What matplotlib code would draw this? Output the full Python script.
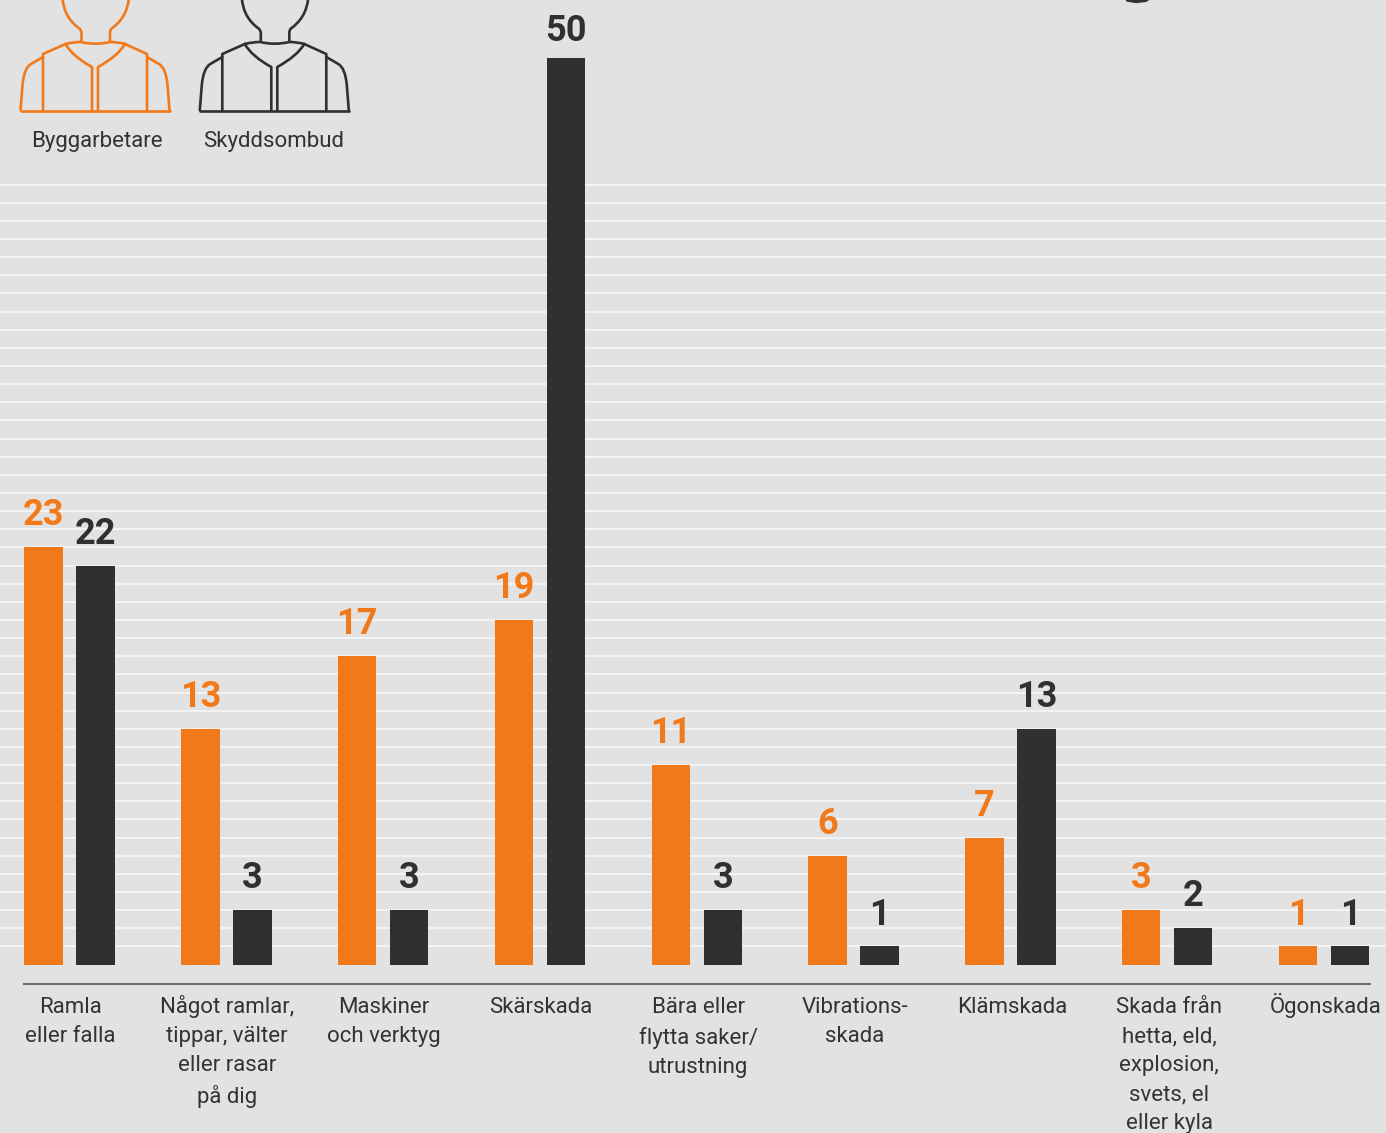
import numpy as np
import matplotlib
matplotlib.use("Agg")
import matplotlib.pyplot as plt
from matplotlib.path import Path
from matplotlib.patches import PathPatch

categories = ["Ramla\neller falla", "Något ramlar,\ntippar, välter\neller rasar\npå dig",
              "Maskiner\noch verktyg", "Skärskada", "Bära eller\nflytta saker/\nutrustning",
              "Vibrations-\nskada", "Klämskada", "Skada från\nhetta, eld,\nexplosion,\nsvets, el\neller kyla",
              "Ögonskada"]
byggarbetare = [23, 13, 17, 19, 11, 6, 7, 3, 1]
skyddsombud = [22, 3, 3, 50, 3, 1, 13, 2, 1]
grid_levels = list(range(1, 44))
series_names = ["Byggarbetare", "Skyddsombud"]

BG = "#e2e2e2"; ORANGE = "#f2791a"; DARK = "#303030"; TEXT = "#333333"
FONT = "Roboto"
W, H = 1386, 1133
fig = plt.figure(figsize=(W/100, H/100), dpi=100, facecolor=BG)
ax = fig.add_axes([0, 0, 1, 1], facecolor="none")
sx, sy = 156.8, 18.14
x0, y0 = 69.6, 964.6
ax.set_xlim(-x0/sx, (W-x0)/sx)
ax.set_ylim(-(H-y0)/sy, y0/sy)
ax.set_axisbelow(True)
ax.set_yticks(grid_levels)
ax.tick_params(axis="y", length=0, labelleft=False)
ax.grid(axis="y", color="#f3f3f3", lw=1.5)
x = np.arange(len(categories))
off = 26/sx; bw = 38.5/sx
ax.bar(x-off, byggarbetare, bw, color=ORANGE)
ax.bar(x+off, skyddsombud, bw, color=DARK)
for xs, vals, c in [(x-off, byggarbetare, ORANGE), (x+off, skyddsombud, DARK)]:
    for xi, v in zip(xs, vals):
        ax.annotate(str(v), (xi, v), xytext=(0, 6 if v == 50 else 10), textcoords="offset points",
                    ha="center", va="bottom", color=c, fontsize=26, fontweight="bold", family=FONT)
for s in ["top", "left", "right"]:
    ax.spines[s].set_visible(False)
sp = ax.spines["bottom"]
sp.set_position(("data", -(984-y0)/sy))
sp.set_bounds((24-x0)/sx, (1370-x0)/sx)
sp.set_color("#6e6e6e"); sp.set_linewidth(1.5)
ax.set_xticks(x*157/156.8 + 0.003)
ax.set_xticklabels(categories, fontsize=16, family=FONT, color=TEXT, linespacing=1.5)
ax.tick_params(axis="x", length=0, pad=9.5)

# icons and fragment in pixel space
ov = fig.add_axes([0, 0, 1, 1], facecolor="none")
ov.set_xlim(0, W); ov.set_ylim(H, 0); ov.axis("off")
M, L, C = Path.MOVETO, Path.LINETO, Path.CURVE3
def icon(dx, color):
    segs = [
        ([(62.5, -2), (64, 18), (80, 29), (81.5, 32), (81.5, 41.5)], [M, C, C, L, L]),
        ([(129, -2), (127, 18), (111, 29), (110, 32), (110, 41.5)], [M, C, C, L, L]),
        ([(65.5, 44), (73, 42), (81, 42), (95, 45.5), (110, 42), (118, 42), (125, 44)], [M, C, C, C, C, C, C]),
        ([(65.5, 44), (43, 54), (43, 111)], [M, L, L]),
        ([(125, 44), (147, 54), (147, 111)], [M, L, L]),
        ([(43, 57), (31, 64), (24, 68), (22.5, 85), (20.5, 110)], [M, L, C, C, L]),
        ([(147, 57), (159, 64), (166, 68), (167.5, 85), (169.5, 110)], [M, L, C, C, L]),
        ([(20.5, 111), (169.5, 111)], [M, L]),
        ([(65.5, 44), (72, 56), (92, 67), (92, 111)], [M, C, C, L]),
        ([(125, 44), (118, 56), (98, 67), (98, 111)], [M, C, C, L]),
    ]
    for pts, codes in segs:
        p = Path([(a+dx, b) for a, b in pts], codes)
        ov.add_patch(PathPatch(p, fc="none", ec=color, lw=1.9, capstyle="round", joinstyle="round"))
icon(0, ORANGE); icon(179.3, DARK)
ov.text(97, 141, series_names[0], ha="center", va="center", fontsize=16, family=FONT, color=TEXT)
ov.text(274, 141, series_names[1], ha="center", va="center", fontsize=16, family=FONT, color=TEXT)
ov.add_patch(PathPatch(Path([(1126,-1),(1151,-1),(1146,2),(1136,3.2),(1126,1.5),(1126,-1)]), fc=DARK, ec="none"))
fig.canvas.draw()
ticks = ax.xaxis.get_major_ticks()
ticks[1].set_pad(8)
ticks[8].set_pad(6.5)
fig.savefig("out.png", dpi=100, facecolor=BG)
